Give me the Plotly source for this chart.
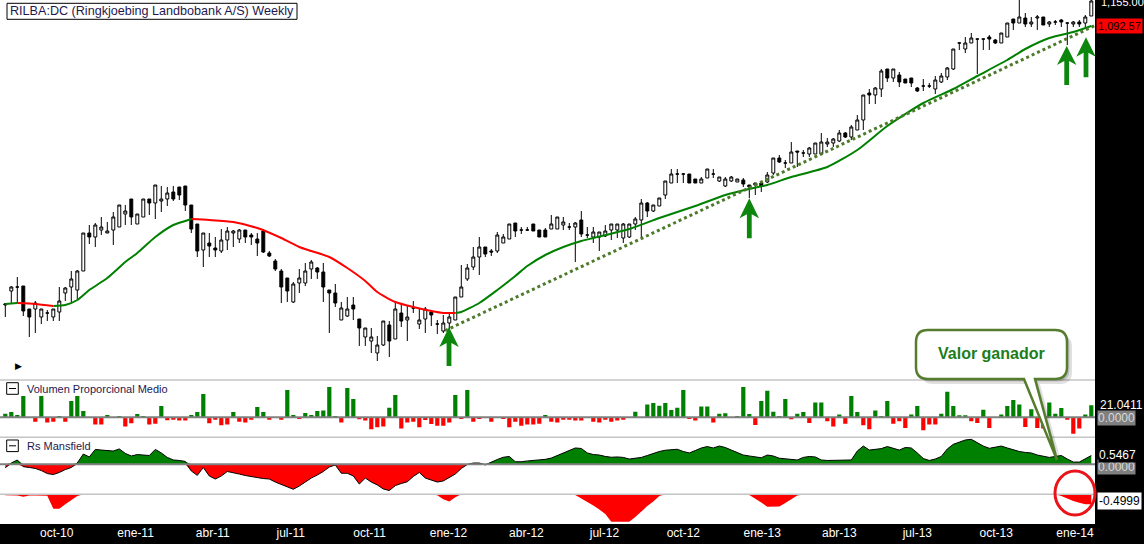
import pandas as pd
import plotly.graph_objects as go
from plotly.subplots import make_subplots

# weekly candles RILBA:DC, Aug 2010 - Jan 2014
start = pd.Timestamp("2010-08-02")
n_weeks = 182

opens = [
    395, 430, 440, 442.5, 385, 385, 365, 375, 365, 377.5,
    425, 440, 432.5, 480, 575, 565, 582.5, 575, 582.5, 590,
    622.5, 660, 597.5, 615, 660, 650, 655, 660, 677.5, 690,
    692.5, 645, 597.5, 532.5, 550, 537.5, 530, 557.5, 575, 560,
    582.5, 570, 560, 580, 525, 505, 480, 462.5, 402.5, 450,
    450, 485, 487.5, 477.5, 432.5, 425, 357.5, 367.5, 395, 360,
    315, 305, 275, 295, 345, 310, 375, 357.5, 387.5, 347.5,
    360, 377.5, 347.5, 330, 350, 357.5, 415, 460, 490, 515,
    540, 530, 530, 550, 560, 600, 582.5, 582.5, 597.5, 582.5,
    582.5, 585, 585, 595, 590, 590, 607.5, 570, 565, 565,
    567.5, 582.5, 582.5, 562.5, 565, 597.5, 607.5, 650, 630, 642.5,
    670, 700, 722.5, 722.5, 722.5, 710, 700, 712.5, 722.5, 705,
    692.5, 705, 702.5, 707.5, 695, 695, 700, 702.5, 725, 762.5,
    750, 750, 780, 775, 772.5, 772.5, 772.5, 797.5, 800, 805,
    825, 815, 832.5, 857.5, 925, 920, 935, 985, 962.5, 970,
    960, 962.5, 937.5, 942.5, 942.5, 935, 952.5, 965, 985, 1050,
    1035, 1050, 1060, 1060, 1065, 1057.5, 1050, 1065, 1110, 1100,
    1112.5, 1097.5, 1112.5, 1115, 1097.5, 1102.5, 1107.5, 1100, 1097.5, 1102.5,
    1100, 1117.5,
]
highs = [
    400, 442.5, 465, 442.5, 385, 405, 385, 382.5, 385, 440,
    440, 480, 482.5, 575, 595, 600, 615, 602.5, 627.5, 645,
    645, 660, 622.5, 660, 660, 695, 692.5, 690, 692.5, 690,
    692.5, 645, 597.5, 575, 575, 565, 585, 590, 582.5, 585,
    582.5, 575, 575, 585, 530, 510, 485, 462.5, 452.5, 485,
    500, 507.5, 490, 500, 432.5, 447.5, 402.5, 415, 415, 360,
    337.5, 337.5, 317.5, 355, 355, 402.5, 397.5, 395, 405, 385,
    390, 382.5, 357.5, 370, 375, 415, 495, 497.5, 540, 565,
    540, 535, 577.5, 572.5, 597.5, 600, 590, 590, 597.5, 582.5,
    587.5, 620, 615, 615, 600, 602.5, 630, 590, 590, 577.5,
    595, 597.5, 597.5, 600, 597.5, 615, 660, 652.5, 645, 662.5,
    705, 735, 735, 725, 722.5, 710, 715, 735, 735, 715,
    715, 717.5, 710, 712.5, 695, 700, 700, 727.5, 762.5, 770,
    757.5, 802.5, 780, 782.5, 790, 800, 825, 812.5, 812.5, 832.5,
    827.5, 845, 870, 920, 935, 940, 985, 985, 985, 977.5,
    960, 962.5, 940, 960, 950, 967.5, 975, 990, 1035, 1052.5,
    1065, 1075, 1060, 1060, 1070, 1060, 1075, 1100, 1110, 1157.5,
    1125, 1115, 1120, 1115, 1105, 1107.5, 1110, 1100, 1105, 1107.5,
    1120, 1160,
]
lows = [
    365, 400, 400, 367.5, 315, 325, 347.5, 355, 355, 355,
    405, 402.5, 410, 480, 547.5, 540, 570, 575, 545, 590,
    595, 595, 597.5, 615, 620, 610, 627.5, 642.5, 655, 657.5,
    630, 575, 515, 490, 515, 515, 525, 532.5, 540, 550,
    550, 545, 517.5, 525, 515, 480, 400, 402.5, 400, 425,
    442.5, 460, 460, 402.5, 325, 390, 357.5, 365, 357.5, 292.5,
    292.5, 275, 255, 292.5, 265, 310, 340, 305, 375, 335,
    325, 342.5, 322.5, 325, 335, 357.5, 415, 455, 482.5, 470,
    515, 517.5, 525, 550, 560, 565, 572.5, 580, 580, 565,
    565, 585, 585, 582.5, 582.5, 502.5, 565, 562.5, 550, 530,
    565, 557.5, 562.5, 550, 562.5, 582.5, 565, 615, 627.5, 642.5,
    660, 700, 700, 700, 700, 700, 700, 712.5, 712.5, 702.5,
    690, 702.5, 702.5, 690, 662.5, 670, 677.5, 700, 720, 750,
    737.5, 750, 740, 765, 765, 772.5, 772.5, 790, 790, 802.5,
    812.5, 807.5, 832.5, 832.5, 897.5, 897.5, 915, 952.5, 952.5, 940,
    950, 940, 927.5, 930, 937.5, 922.5, 950, 957.5, 982.5, 1032.5,
    1025, 1050, 972.5, 1032.5, 1032.5, 1047.5, 1050, 1065, 1082.5, 1100,
    1090, 1090, 1082.5, 1095, 1090, 1095, 1090, 1045, 1090, 1090,
    1090, 1117.5,
]
closes = [
    397.5, 440, 440, 380, 365, 400, 385, 375, 385, 405,
    437.5, 460, 480, 575, 565, 595, 590, 580, 615, 645,
    630, 615, 622.5, 660, 650, 695, 660, 675, 660, 670,
    645, 585, 530, 575, 542.5, 532.5, 557.5, 580, 580, 582.5,
    565, 565, 550, 527.5, 517.5, 485, 440, 430, 447.5, 462.5,
    480, 502.5, 477.5, 440, 425, 400, 387.5, 385, 385, 337.5,
    337.5, 315, 295, 355, 305, 385, 355, 365, 387.5, 357.5,
    385, 370, 347.5, 350, 365, 415, 440, 487.5, 515, 540,
    522.5, 527.5, 570, 565, 597.5, 580, 582.5, 582.5, 580, 565,
    565, 597.5, 615, 602.5, 590, 600, 572.5, 570, 577.5, 577.5,
    580, 597.5, 597.5, 597.5, 597.5, 610, 650, 630, 645, 662.5,
    705, 722.5, 722.5, 722.5, 700, 700, 710, 735, 722.5, 715,
    710, 715, 710, 697.5, 690, 700, 692.5, 720, 762.5, 752.5,
    750, 777.5, 777.5, 775, 787.5, 800, 802.5, 802.5, 810, 825,
    815, 840, 857.5, 920, 920, 937.5, 980, 962.5, 985, 952.5,
    950, 950, 930, 942.5, 942.5, 957.5, 967.5, 987.5, 1035, 1050,
    1050, 1062.5, 1060, 1060, 1060, 1050, 1075, 1100, 1100, 1115,
    1097.5, 1102.5, 1115, 1095, 1102.5, 1102.5, 1102.5, 1100, 1102.5, 1097.5,
    1115, 1155,
]

# 30-week average (week index, value)
ma_weeks = [0, 2, 5, 8, 10, 12, 14, 17, 20, 22, 25, 28, 30, 31, 34, 38, 42, 46,
            49, 51, 54, 57, 60, 62, 65, 68, 71, 73, 75, 76, 79, 82, 85, 87, 90,
            93, 96, 98, 104, 109, 115, 120, 124, 127, 131, 137, 142, 147, 153,
            158, 162, 167, 170, 174, 178, 181]
ma_vals = [397.5, 400, 397.5, 392.5, 395, 407.5, 432.5, 462.5, 502.5, 525, 565,
           595, 605, 610, 607.5, 602.5, 587.5, 562.5, 540, 530, 515, 487.5, 455,
           427.5, 402.5, 390, 380, 375, 375, 377.5, 400, 432.5, 467.5, 492.5,
           520, 540, 555, 562.5, 585, 612.5, 642.5, 670, 685, 695, 715, 740,
           782.5, 842.5, 900, 935, 967.5, 1007.5, 1035, 1062.5, 1077.5, 1092.57]

trend_weeks = [73.3, 181.8]
trend_vals = [331, 1095]

volume = [
    6.4, 9.3, 4.1, 37.3, 0, -7.6, 37.3, -9.3, -7.6, 2.3,
    -7.6, 28.6, 37.3, 11.1, 0, -12.8, -12.8, 4.1, 0, 2.3,
    -16.3, -10.5, 5.8, 2.3, -12.8, -11.1, 19.8, -5.3, -4.1, -5.8,
    -5.8, 4.1, 9.3, 40.9, -10.5, -4.1, -14.0, -12.8, 9.3, -7.6,
    -9.3, -4.1, 18.1, 9.3, -4.1, 0, -4.1, 47.8, 4.1, -2.3,
    7.6, 4.1, 11.1, 11.7, 53.1, 2.3, -9.3, 51.3, 32.1, -3.5,
    -5.8, -21.0, -17.5, -16.3, 16.9, 39.1, -19.8, -9.3, -7.6, -17.5,
    -4.7, -11.7, -14.6, -14.6, -9.3, 39.1, -1.8, 47.8, -7.6, -2.3,
    0, -7.6, 0, -2.3, -17.5, -7.6, -14.6, -12.8, -12.8, -11.1,
    4.1, -7.6, -9.3, -4.1, -4.1, -5.8, -5.8, 0, -7.6, -9.3,
    -4.1, -7.6, -5.8, -4.1, 0, 9.9, 0, 22.2, 25.1, 20.4,
    25.1, 12.8, 16.9, 47.8, -2.3, -5.8, 18.7, 18.7, -9.3, 6.4,
    7.0, 0, 2.3, 53.1, 5.8, -13.4, 28.6, 46.7, 9.9, 2.3,
    32.1, -3.5, 6.4, 9.3, -9.9, 25.7, 25.7, -7.0, -16.3, 4.7,
    -11.1, 37.3, 9.3, -14.0, -21.0, 11.7, 2.3, 28.6, -11.1, -7.0,
    -18.7, 4.7, 19.8, -22.8, -12.8, -12.8, 6.4, 44.9, 19.8, 3.5,
    3.5, -7.0, -9.9, 13.4, -18.7, 0, 4.7, 19.8, 30.3, 22.2,
    -16.9, 14.0, -18.7, -19.8, 25.7, 6.4, 16.3, -4.1, -28.6, -19.8,
    4.7, 21.0411,
]

rs_mansfield = [
    -0.21, 0.08, 0.27, -0.15, -0.20, -0.26, -0.39, -0.58, -0.64, -0.51,
    -0.33, -0.20, 0.08, 0.64, 0.46, 0.93, 0.89, 0.86, 0.83, 0.96,
    0.68, 0.52, 0.61, 0.58, 0.55, 0.93, 0.71, 0.43, 0.27, 0.24,
    0.18, -0.42, -0.69, -0.20, -0.73, -0.92, -0.73, -0.45, -0.51, -0.61,
    -0.70, -0.78, -0.83, -0.89, -0.92, -1.11, -1.26, -1.45, -1.56, -1.36,
    -1.11, -0.86, -0.67, -0.45, -0.17, -0.04, -0.56, -0.56, -0.73, -1.23,
    -0.86, -1.11, -1.29, -1.54, -1.64, -1.33, -1.20, -1.09, -0.76, -0.51,
    -0.86, -0.98, -1.11, -1.04, -0.83, -0.61, -0.26, -0.01, 0.08, 0.08,
    -0.04, 0.14, 0.30, 0.44, 0.49, 0.16, 0.16, 0.21, 0.23, 0.27,
    0.31, 0.39, 0.55, 0.73, 0.86, 1.02, 0.99, 0.71, 0.61, 0.58,
    0.49, 0.44, 0.46, 0.43, 0.33, 0.36, 0.43, 0.55, 0.69, 0.80,
    0.88, 0.91, 0.94, 0.80, 0.71, 0.86, 1.02, 1.11, 1.02, 1.14,
    1.05, 0.89, 0.74, 0.58, 0.52, 0.46, 0.41, 0.58, 0.52, 0.38,
    0.33, 0.30, 0.27, 0.43, 0.49, 0.46, 0.27, 0.24, 0.24, 0.24,
    0.24, 0.27, 0.83, 1.14, 0.89, 0.93, 0.98, 1.11, 0.99, 0.89,
    1.05, 1.02, 0.71, 0.36, 0.24, 0.33, 0.49, 0.96, 1.25, 1.39,
    1.52, 1.56, 1.33, 1.14, 1.00, 1.08, 1.14, 1.02, 0.89, 0.80,
    0.74, 0.71, 0.58, 0.49, 0.43, 0.49, 0.55, 0.33, 0.14, 0.14,
    0.33, 0.5467,
]

rs_low = [
    -0.05, -0.06, -0.06, -0.12, -0.06, -0.06, -0.06, -0.07, -0.72, -0.72,
    -0.50, -0.29, -0.09, 0, 0, 0, 0, 0, 0, 0,
    0, 0, 0, 0, 0, 0, 0, 0, 0, 0,
    0, 0, 0, 0, 0, 0, 0, 0, 0, 0,
    0, 0, 0, 0, 0, 0, 0, 0, 0, 0,
    0, 0, 0, 0, 0, 0, 0, 0, 0, 0,
    0, 0, 0, 0, 0, 0, 0, 0, 0, 0,
    0, 0, -0.05, -0.25, -0.36, -0.15, 0, 0, 0, 0,
    0, 0, 0, 0, 0, 0, 0, 0, 0, 0,
    0, 0, 0, 0, 0, -0.04, -0.21, -0.36, -0.56, -0.76,
    -0.99, -1.37, -1.37, -1.37, -1.37, -1.14, -0.84, -0.59, -0.36, -0.09,
    0, 0, 0, 0, 0, 0, 0, 0, 0, 0,
    0, 0, 0, 0, -0.04, -0.21, -0.41, -0.62, -0.62, -0.61,
    -0.44, -0.24, -0.06, 0, 0, 0, 0, 0, 0, 0,
    0, 0, 0, 0, 0, 0, 0, 0, 0, 0,
    0, 0, 0, 0, 0, 0, 0, 0, 0, 0,
    0, 0, 0, 0, 0, 0, 0, 0, 0, 0,
    0, 0, 0, 0, 0, 0, -0.09, -0.22, -0.34, -0.42,
    -0.50, -0.4999,
]

tick_dates = ["2010-10-01", "2011-01-01", "2011-04-01", "2011-07-01",
              "2011-10-01", "2012-01-01", "2012-04-01", "2012-07-01",
              "2012-10-01", "2013-01-01", "2013-04-01", "2013-07-01",
              "2013-10-01", "2014-01-01"]
tick_text = ["oct-10", "ene-11", "abr-11", "jul-11", "oct-11", "ene-12",
             "abr-12", "jul-12", "oct-12", "ene-13", "abr-13", "jul-13",
             "oct-13", "ene-14"]

GREEN = "#008000"
RED = "#ff0000"
FONT = "Liberation Sans, Arial, sans-serif"

weeks = [start + pd.Timedelta(days=7 * i) for i in range(n_weeks)]


def week_date(idx):
    return start + pd.Timedelta(days=7 * idx)


# plot area is 1095 x 524 px, helpers to place decorations in paper coords
PW, PH = 1095.0, 524.0


def px(x):
    return x / PW


def py(y):
    return 1 - y / PH


fig = make_subplots(rows=4, cols=1, shared_xaxes=True, vertical_spacing=0,
                    row_heights=[380, 57.3, 57, 29.7])

fig.add_trace(go.Candlestick(
    x=weeks, open=opens, high=highs, low=lows, close=closes,
    increasing=dict(line=dict(color="black", width=1), fillcolor="white"),
    decreasing=dict(line=dict(color="black", width=1), fillcolor="black"),
    whiskerwidth=0, showlegend=False, hoverinfo="skip"), row=1, col=1)

# moving average coloured by slope
colors = []
for k in range(1, len(ma_vals)):
    if ma_vals[k] > ma_vals[k - 1]:
        colors.append(GREEN)
    elif ma_vals[k] < ma_vals[k - 1]:
        colors.append(RED)
    else:
        colors.append(colors[-1] if colors else GREEN)
k = 0
while k < len(colors):
    j = k
    while j + 1 < len(colors) and colors[j + 1] == colors[k]:
        j += 1
    seg = range(k, j + 2)
    fig.add_trace(go.Scatter(
        x=[week_date(ma_weeks[i]) for i in seg], y=[ma_vals[i] for i in seg],
        mode="lines", line=dict(color=colors[k], width=2, shape="spline", smoothing=0.6),
        showlegend=False, hoverinfo="skip"), row=1, col=1)
    k = j + 1

fig.add_trace(go.Scatter(
    x=[week_date(w) for w in trend_weeks], y=trend_vals, mode="lines",
    line=dict(color="#4d7a2b", width=3, dash="dot"),
    showlegend=False, hoverinfo="skip"), row=1, col=1)

fig.add_trace(go.Bar(
    x=weeks, y=volume, marker_color=[GREEN if v >= 0 else RED for v in volume],
    marker_line_width=0, showlegend=False, hoverinfo="skip"), row=2, col=1)

rs_pos = [max(v, 0) for v in rs_mansfield]
rs_neg = [min(v, 0) for v in rs_mansfield]
fig.add_trace(go.Scatter(x=weeks, y=rs_pos, mode="lines", fill="tozeroy",
                         fillcolor=GREEN, line=dict(width=0), showlegend=False,
                         hoverinfo="skip"), row=3, col=1)
fig.add_trace(go.Scatter(x=weeks, y=rs_neg, mode="lines", fill="tozeroy",
                         fillcolor=RED, line=dict(width=0), showlegend=False,
                         hoverinfo="skip"), row=3, col=1)
fig.add_trace(go.Scatter(x=weeks, y=rs_mansfield, mode="lines",
                         line=dict(color="black", width=1), showlegend=False,
                         hoverinfo="skip"), row=3, col=1)

fig.add_trace(go.Scatter(x=weeks, y=rs_low, mode="lines", fill="tozeroy",
                         fillcolor=RED, line=dict(width=0), showlegend=False,
                         hoverinfo="skip"), row=4, col=1)

x_left = start - pd.Timedelta(days=5.3 * 7 / 6)
x_right = start + pd.Timedelta(days=(PW - 5.3) * 7 / 6)
fig.update_xaxes(range=[x_left, x_right], showgrid=False, zeroline=False,
                 showline=False, ticks="", showticklabels=False,
                 rangeslider_visible=False)
fig.update_xaxes(row=4, col=1, showticklabels=True, tickvals=tick_dates,
                 ticktext=tick_text, tickfont=dict(color="white", size=12, family=FONT))
fig.update_yaxes(showgrid=False, zeroline=False, showticklabels=False, ticks="",
                 showline=False, fixedrange=True)

fig.update_layout(
    width=1144, height=544, autosize=False,
    margin=dict(l=0, r=49, t=0, b=20, pad=0),
    paper_bgcolor="black", plot_bgcolor="white",
    bargap=0.3, showlegend=False,
    yaxis=dict(domain=[py(380), 1], range=[207.5, 1157.5]),
    yaxis2=dict(domain=[py(437.3), py(380)], range=[-35, 65.3]),
    yaxis3=dict(domain=[py(494.3), py(437.3)], range=[-1.875, 1.6875]),
    yaxis4=dict(domain=[0, py(494.3)], range=[-1.485, 0]),
)

shapes = []
# panel separators and zero lines
for y in (380, 437.3, 494.3):
    shapes.append(dict(type="line", xref="paper", yref="paper", x0=0, x1=1,
                       y0=py(y), y1=py(y), line=dict(color="#c4c4c4", width=1.5)))
for y in (417.3, 464.3):
    shapes.append(dict(type="line", xref="paper", yref="paper", x0=0, x1=1,
                       y0=py(y), y1=py(y), line=dict(color="#808080", width=2),
                       layer="above"))

# title box
shapes.append(dict(type="rect", xref="paper", yref="paper", x0=px(7), x1=px(297),
                   y0=py(19.3), y1=py(3.3), line=dict(color="black", width=1),
                   fillcolor="white"))

# collapse icons of the indicator panels
for top in (382.7, 440):
    shapes.append(dict(type="rect", xref="paper", yref="paper", x0=px(6.7), x1=px(18.3),
                       y0=py(top + 11.6), y1=py(top), line=dict(color="black", width=1),
                       fillcolor="white"))
    shapes.append(dict(type="line", xref="paper", yref="paper", x0=px(9), x1=px(16),
                       y0=py(top + 5.8), y1=py(top + 5.8), line=dict(color="black", width=1)))


def arrow_path(cx, ytip, ybarb, ybot, hw=9.7, sw=2.4, notch=4):
    pts = [(cx, ytip), (cx + hw, ybarb), (cx + sw, ybarb - notch), (cx + sw, ybot),
           (cx - sw, ybot), (cx - sw, ybarb - notch), (cx - hw, ybarb)]
    return "M " + " L ".join(f"{px(a):.5f},{py(b):.5f}" for a, b in pts) + " Z"


for cx, ytip, ybarb, ybot in [(449, 327, 347, 366), (749.3, 198.3, 218.3, 238.3),
                              (1066.7, 46, 65, 85), (1086, 37.3, 56.7, 77.3)]:
    shapes.append(dict(type="path", xref="paper", yref="paper",
                       path=arrow_path(cx, ytip, ybarb, ybot),
                       fillcolor="#0c860c", line=dict(width=0)))


def callout_path(dx=0.0, dy=0.0):
    x0, x1, y0, y1, r = 916 + dx, 1067 + dx, 330 + dy, 379 + dy, 12

    def P(a, b):
        return f"{px(a):.5f},{py(b):.5f}"
    return (f"M {P(x0 + r, y0)} L {P(x1 - r, y0)} Q {P(x1, y0)} {P(x1, y0 + r)} "
            f"L {P(x1, y1 - r)} Q {P(x1, y1)} {P(x1 - r, y1)} "
            f"L {P(1035 + dx, y1)} L {P(1057 + dx, 460 + dy)} L {P(1024 + dx, y1)} "
            f"L {P(x0 + r, y1)} Q {P(x0, y1)} {P(x0, y1 - r)} "
            f"L {P(x0, y0 + r)} Q {P(x0, y0)} {P(x0 + r, y0)} Z")


shapes.append(dict(type="path", xref="paper", yref="paper", path=callout_path(5, 5),
                   fillcolor="rgba(0,0,0,0.12)", line=dict(width=0)))
shapes.append(dict(type="path", xref="paper", yref="paper", path=callout_path(2.5, 2.5),
                   fillcolor="rgba(0,0,0,0.15)", line=dict(width=0)))
shapes.append(dict(type="path", xref="paper", yref="paper", path=callout_path(),
                   fillcolor="white", line=dict(color="#567d2e", width=2.5)))

# hand-drawn red circle
shapes.append(dict(type="circle", xref="paper", yref="paper", x0=px(1055), x1=px(1095),
                   y0=py(515), y1=py(471), line=dict(color="#e8141a", width=3)))

fig.update_layout(shapes=shapes)


def label(text, x, y, xanchor="left", **kw):
    return dict(text=text, xref="paper", yref="paper", x=px(x), y=py(y),
                xanchor=xanchor, yanchor="middle", showarrow=False, **kw)


ann = [
    label("RILBA:DC (Ringkjoebing Landbobank A/S) Weekly", 152, 11.3, "center",
          font=dict(family=FONT, size=12.6, color="#1e1850")),
    label("Volumen Proporcional Medio", 24.5, 389,
          font=dict(family=FONT, size=11, color="#1e1850")),
    label("Rs Mansfield", 24.5, 446, font=dict(family=FONT, size=11, color="#1e1850")),
    label("▶", 18, 366, "center", font=dict(family="DejaVu Sans", size=9, color="black")),
    label("<b>Valor ganador</b>", 991, 353.5, "center",
          font=dict(family=FONT, size=16, color="#1b7d1b")),
    # right axis value labels
    label("1,155.00", 1099, 2.5, font=dict(family=FONT, size=11, color="white")),
    label("1,092.57", 1096, 26, bgcolor=RED, borderpad=1,
          font=dict(family=FONT, size=11, color="black")),
    label("21.0411", 1098, 405.3, font=dict(family=FONT, size=12, color="white")),
    label("0.0000", 1097, 418, bgcolor="#808080", borderpad=0,
          font=dict(family=FONT, size=12, color="#d8d8d8")),
    label("0.0000", 1097, 467, bgcolor="#808080", borderpad=0,
          font=dict(family=FONT, size=12, color="#d8d8d8")),
    label("0.5467", 1098, 455, bgcolor="black", borderpad=0,
          font=dict(family=FONT, size=12, color="white")),
    label("-0.4999", 1097, 500.5, bgcolor="white", borderpad=1,
          font=dict(family=FONT, size=12, color="black")),
]
fig.update_layout(annotations=ann)

fig.write_html("out.html", config={"displayModeBar": False},
               post_script="document.body.style.margin='0px';")
